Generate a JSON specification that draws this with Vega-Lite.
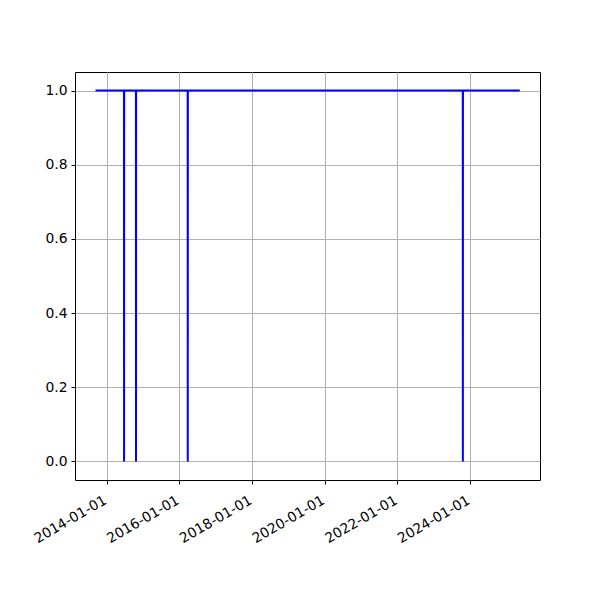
{
  "$schema": "https://vega.github.io/schema/vega-lite/v6.json",
  "autosize": "none",
  "padding": {"left": 75, "top": 72, "right": 60, "bottom": 120},
  "width": 465,
  "height": 408,
  "background": "white",
  "config": {
    "font": "DejaVu Sans",
    "view": {"stroke": "black", "strokeWidth": 1}
  },
  "data": {
    "values": [
      {"date": "2013-09-12", "value": 1},
      {"date": "2014-06-25", "value": 1},
      {"date": "2014-06-26", "value": 0},
      {"date": "2014-06-27", "value": 1},
      {"date": "2014-10-23", "value": 1},
      {"date": "2014-10-24", "value": 0},
      {"date": "2014-10-25", "value": 1},
      {"date": "2016-03-26", "value": 1},
      {"date": "2016-03-27", "value": 0},
      {"date": "2016-03-28", "value": 1},
      {"date": "2023-10-20", "value": 1},
      {"date": "2023-10-21", "value": 0},
      {"date": "2023-10-22", "value": 1},
      {"date": "2025-05-15", "value": 1}
    ]
  },
  "mark": {"type": "line", "color": "#0000ff", "strokeWidth": 2, "interpolate": "linear"},
  "encoding": {
    "x": {
      "field": "date",
      "type": "temporal",
      "scale": {
        "type": "utc",
        "domain": [
          {"year": 2013, "month": 2, "date": 18, "utc": true},
          {"year": 2025, "month": 12, "date": 4, "utc": true}
        ]
      },
      "axis": {
        "title": null,
        "values": [
          {"year": 2014, "month": 1, "date": 1, "utc": true},
          {"year": 2016, "month": 1, "date": 1, "utc": true},
          {"year": 2018, "month": 1, "date": 1, "utc": true},
          {"year": 2020, "month": 1, "date": 1, "utc": true},
          {"year": 2022, "month": 1, "date": 1, "utc": true},
          {"year": 2024, "month": 1, "date": 1, "utc": true}
        ],
        "labelExpr": "utcFormat(datum.value, '%Y-%m-%d')",
        "labelAngle": -30,
        "labelAlign": "right",
        "labelBaseline": "top",
        "labelFontSize": 13.9,
        "labelColor": "black",
        "labelPadding": 9,
        "labelOffset": -5,
        "tickColor": "black",
        "tickSize": 4,
        "domain": false,
        "grid": true,
        "gridColor": "#b0b0b0",
        "gridWidth": 1,
        "labelFlush": false,
        "labelOverlap": false
      }
    },
    "y": {
      "field": "value",
      "type": "quantitative",
      "scale": {"domain": [-0.05, 1.05], "nice": false, "zero": false},
      "axis": {
        "title": null,
        "values": [0, 0.2, 0.4, 0.6, 0.8, 1.0],
        "format": ".1f",
        "labelFontSize": 13.9,
        "labelColor": "black",
        "labelPadding": 4,
        "tickColor": "black",
        "tickSize": 4,
        "domain": false,
        "grid": true,
        "gridColor": "#b0b0b0",
        "gridWidth": 1
      }
    }
  }
}
